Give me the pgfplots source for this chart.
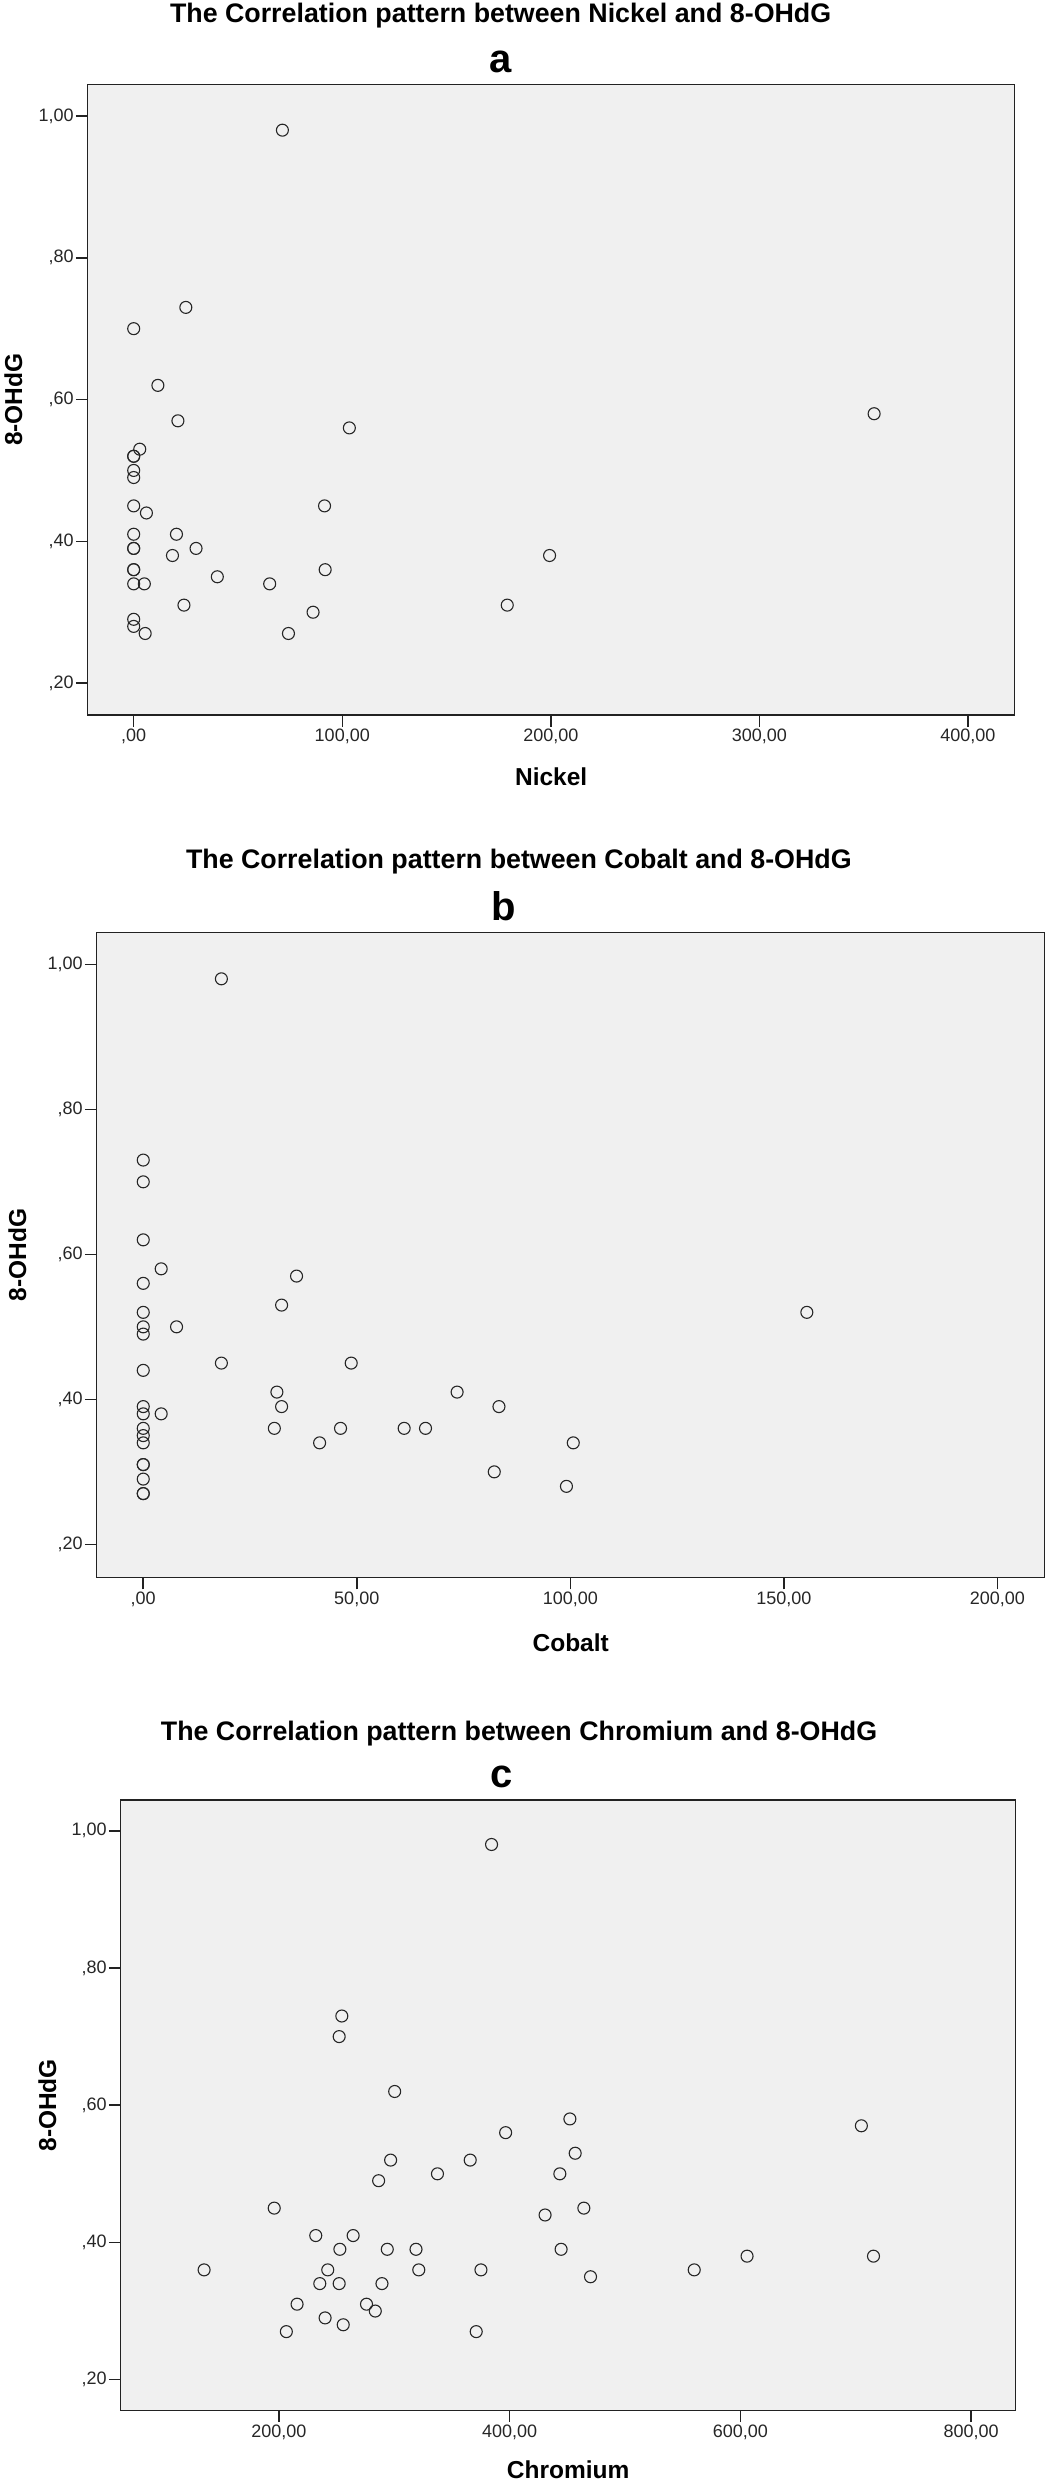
\documentclass[border=0pt]{standalone}
\usepackage{fontspec}
\setmainfont{Liberation Sans}
\usepackage{pgfplots}
\pgfplotsset{compat=1.18}
\definecolor{bggray}{HTML}{F0F0F0}
\definecolor{framec}{HTML}{222222}
\pgfplotsset{
  spssmark/.style={
    only marks,
    mark=o,
    mark size=3bp,
    draw=black!85,
    mark options={line width=0.55bp, draw=black!85, fill=none},
  },
  spssscatter/.style={
    scale only axis,
    anchor=north west,
    axis background/.style={fill=bggray},
    axis line style={framec, line width=0.7bp},
    tick align=outside,
    xtick pos=bottom, ytick pos=left,
    major tick length=5.85bp,
    tick style={framec, line width=0.75bp},
    minor tick num=0,
    ticklabel style={font=\fontsize{9bp}{10bp}\selectfont, text=black!85},
    xticklabel style={inner sep=1bp},
    yticklabel style={inner sep=1bp},
    label style={font=\bfseries\fontsize{12.25bp}{14bp}\selectfont},
    ytick={0.2,0.4,0.6,0.8,1.0},
    yticklabels={{,20},{,40},{,60},{,80},{1,00}},
    ylabel={8-OHdG},
    ymin=0.155, ymax=1.0447,
  }
}
\begin{document}
\begin{tikzpicture}
\path[use as bounding box] (0,0) rectangle (524.5bp,-1240.5bp);
% ---------- panel a ----------
\node[anchor=base, font=\bfseries\fontsize{13.4bp}{15bp}\selectfont] at (250.3bp,-11.35bp) {The Correlation pattern between Nickel and 8-OHdG};
\node[anchor=base, font=\bfseries\fontsize{20bp}{22bp}\selectfont] at (250.5bp,-36bp) {a};
\begin{axis}[spssscatter,
  at={(43.85bp,-42.15bp)},
  width=463.5bp, height=315.35bp,
  xmin=-22.05, xmax=422.4,
  xtick={0,100,200,300,400},
  xticklabels={{,00},{100,00},{200,00},{300,00},{400,00}},
  xlabel={Nickel},
  xlabel style={at={(axis description cs:0.5,-0.098)}, anchor=center},
  ylabel style={at={(axis description cs:-0.0802,0.5)}, anchor=center},
]
\addplot[spssmark] coordinates {
(71.3,0.98) (25.0,0.73) (0,0.70) (11.6,0.62) (21.2,0.57) (103.4,0.56) (355,0.58)
(2.9,0.53) (0,0.52) (0,0.52) (0,0.50) (0,0.49) (0,0.45) (91.5,0.45) (6.1,0.44)
(0,0.41) (20.5,0.41) (0,0.39) (0,0.39) (29.9,0.39) (18.6,0.38) (199.4,0.38)
(0,0.36) (0,0.36) (91.8,0.36) (40.1,0.35) (0,0.34) (5.1,0.34) (65.2,0.34)
(24.1,0.31) (179.1,0.31) (86.0,0.30) (0,0.29) (0,0.28) (5.5,0.27) (74.2,0.27)
};
\end{axis}
% ---------- panel b ----------
\node[anchor=base, font=\bfseries\fontsize{13.4bp}{15bp}\selectfont] at (259.4bp,-434.15bp) {The Correlation pattern between Cobalt and 8-OHdG};
\node[anchor=base, font=\bfseries\fontsize{20bp}{22bp}\selectfont] at (251.7bp,-460bp) {b};
\begin{axis}[spssscatter,
  at={(48.35bp,-466.35bp)},
  width=474bp, height=322.5bp,
  xmin=-10.9, xmax=211.1,
  ymin=0.154, ymax=1.0436,
  xtick={0,50,100,150,200},
  xticklabels={{,00},{50,00},{100,00},{150,00},{200,00}},
  xlabel={Cobalt},
  xlabel style={at={(axis description cs:0.5,-0.101)}, anchor=center},
  ylabel style={at={(axis description cs:-0.0836,0.5)}, anchor=center},
]
\addplot[spssmark] coordinates {
(18.3,0.98) (0,0.73) (0,0.70) (0,0.62) (4.2,0.58) (35.9,0.57) (0,0.56) (32.4,0.53)
(0,0.52) (155.4,0.52) (0,0.50) (7.8,0.50) (0,0.49) (18.3,0.45) (48.7,0.45) (0,0.44)
(31.3,0.41) (73.5,0.41) (0,0.39) (32.4,0.39) (83.3,0.39) (0,0.38) (4.2,0.38)
(0,0.36) (30.7,0.36) (46.2,0.36) (61.1,0.36) (66.1,0.36) (0,0.35) (0,0.34)
(41.3,0.34) (100.7,0.34) (0,0.31) (0,0.31) (82.2,0.30) (0,0.29) (99.1,0.28)
(0,0.27) (0,0.27)
};
\end{axis}
% ---------- panel c ----------
\node[anchor=base, font=\bfseries\fontsize{13.4bp}{15bp}\selectfont] at (259.5bp,-870.35bp) {The Correlation pattern between Chromium and 8-OHdG};
\node[anchor=base, font=\bfseries\fontsize{20bp}{22bp}\selectfont] at (251bp,-893.75bp) {c};
\begin{axis}[spssscatter,
  at={(60.35bp,-900bp)},
  width=447.5bp, height=305.25bp,
  xmin=62.8, xmax=838.7,
  ymin=0.155, ymax=1.0448,
  xtick={200,400,600,800},
  xticklabels={{200,00},{400,00},{600,00},{800,00}},
  xlabel={Chromium},
  xlabel style={at={(axis description cs:0.5,-0.0975)}, anchor=center},
  ylabel style={at={(axis description cs:-0.0818,0.5)}, anchor=center},
]
\addplot[spssmark] coordinates {
(384.3,0.98) (254.5,0.73) (252.2,0.70) (300.3,0.62) (452.2,0.58) (704.9,0.57)
(396.5,0.56) (456.8,0.53) (296.8,0.52) (365.8,0.52) (286.4,0.49) (337.4,0.50)
(443.5,0.50) (195.9,0.45) (464.3,0.45) (430.7,0.44) (231.9,0.41) (264.3,0.41)
(252.8,0.39) (293.9,0.39) (318.8,0.39) (444.6,0.39) (605.8,0.38) (715.4,0.38)
(135.1,0.36) (242.3,0.36) (321.2,0.36) (375.1,0.36) (560.0,0.36) (470.1,0.35)
(235.4,0.34) (252.2,0.34) (289.3,0.34) (215.7,0.31) (275.9,0.31) (283.5,0.30)
(240.0,0.29) (255.7,0.28) (206.4,0.27) (371.0,0.27)
};
\end{axis}
\end{tikzpicture}
\end{document}
